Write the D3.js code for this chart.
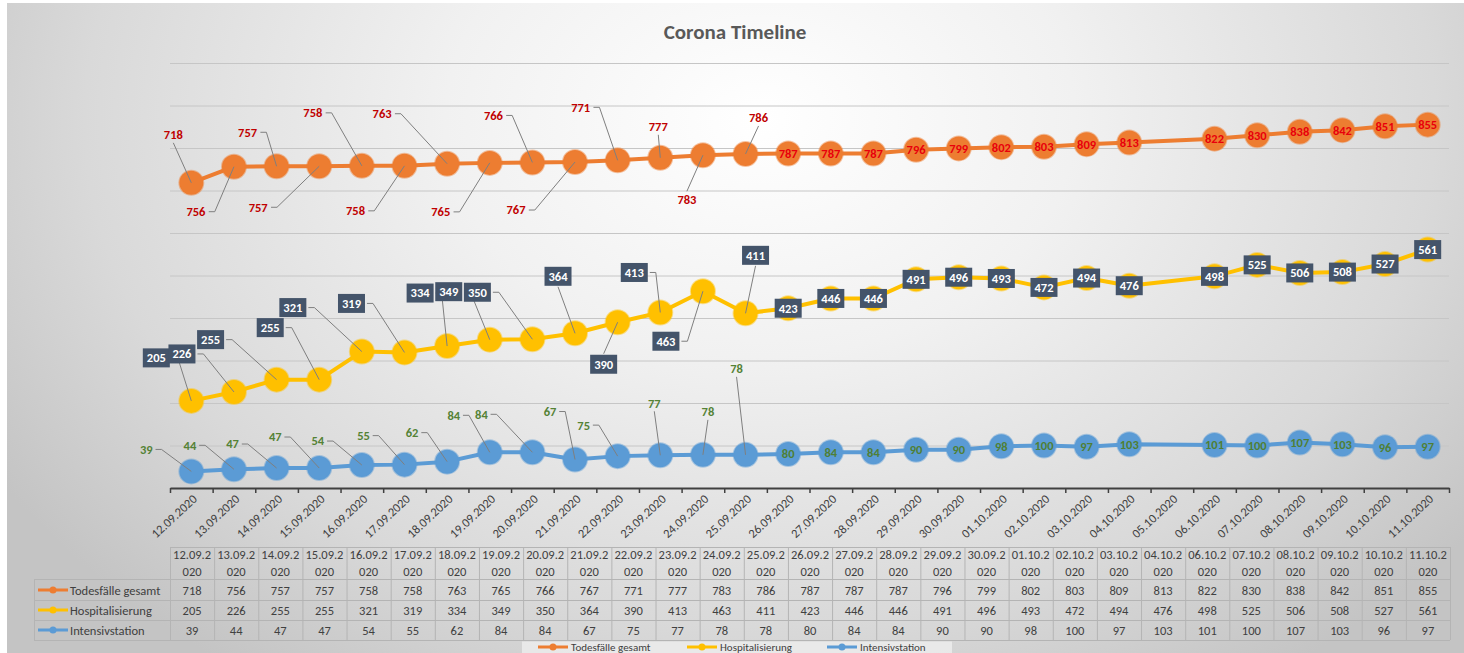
<!DOCTYPE html>
<html><head><meta charset="utf-8">
<script src="https://cdn.jsdelivr.net/npm/d3@7"></script>
<style>
html,body{margin:0;padding:0;background:#fff;}
svg{display:block;font-family:Carlito,Lato,"Open Sans",sans-serif;}
</style></head>
<body><svg id="c" width="1464" height="653"></svg>
<script>
// ---------- DATA ----------
const dates = ["12.09.2020","13.09.2020","14.09.2020","15.09.2020","16.09.2020","17.09.2020","18.09.2020","19.09.2020","20.09.2020","21.09.2020","22.09.2020","23.09.2020","24.09.2020","25.09.2020","26.09.2020","27.09.2020","28.09.2020","29.09.2020","30.09.2020","01.10.2020","02.10.2020","03.10.2020","04.10.2020","06.10.2020","07.10.2020","08.10.2020","09.10.2020","10.10.2020","11.10.2020"];
const axisLabels = ["12.09.2020","13.09.2020","14.09.2020","15.09.2020","16.09.2020","17.09.2020","18.09.2020","19.09.2020","20.09.2020","21.09.2020","22.09.2020","23.09.2020","24.09.2020","25.09.2020","26.09.2020","27.09.2020","28.09.2020","29.09.2020","30.09.2020","01.10.2020","02.10.2020","03.10.2020","04.10.2020","05.10.2020","06.10.2020","07.10.2020","08.10.2020","09.10.2020","10.10.2020","11.10.2020"];
const todesfaelle = [718,756,757,757,758,758,763,765,766,767,771,777,783,786,787,787,787,796,799,802,803,809,813,822,830,838,842,851,855];
const hospitalisierung = [205,226,255,255,321,319,334,349,350,364,390,413,463,411,423,446,446,491,496,493,472,494,476,498,525,506,508,527,561];
const intensivstation = [39,44,47,47,54,55,62,84,84,67,75,77,78,78,80,84,84,90,90,98,100,97,103,101,100,107,103,96,97];
const seriesNames = ["Todesfälle gesamt","Hospitalisierung","Intensivstation"];
const yTicks = [100,200,300,400,500,600,700,800,900,1000];

// ---------- LAYOUT / STYLE (label placement: offset from point, leader mode) ----------
const orangeOff = [[-18,-48,'v'],[-38,45,'h'],[-29,-34,'h'],[-61,41,'h'],[-49,-53,'h'],[-49,45,'h'],[-65,-50,'h'],[-49,49,'h'],[-39,-47,'h'],[-59,48,'h'],[-37,-53,'h'],[-2,-31,'v'],[-16,44,'v'],[13,-36,'v']];
const yellowOff = [[-35,-43,'h'],[-52,-38,'h'],[-66,-40,'h'],[-49,-52,'h'],[-69,-44,'h'],[-53,-49,'h'],[-27,-53,'h'],[-41,-48,'h'],[-55,-47,'h'],[-17,-57,'v'],[-14,42,'v'],[-26,-40,'h'],[-37,50,'h'],[10,-58,'v']];
const blueOff = [[-45,-22,'h'],[-44,-24,'h'],[-44,-24,'h'],[-44,-31,'h'],[-44,-24,'h'],[-41,-29,'h'],[-35,-29,'h'],[-36,-37,'h'],[-51,-38,'h'],[-25,-48,'h'],[-34,-31,'h'],[-6,-52,'v'],[5,-43,'v'],[-9,-86,'v']];

const colors = ["#ED7D31","#FFC000","#5B9BD5"];

const svg = d3.select("#c");
const W = 1464, H = 653;
const parse = d3.utcParse("%d.%m.%Y");
const DAY = 864e5;

// background
const defs = svg.append("defs");
const rg = defs.append("radialGradient").attr("id","bg").attr("gradientUnits","userSpaceOnUse")
  .attr("cx",760).attr("cy",120).attr("r",900).attr("fx",760).attr("fy",120)
  .attr("gradientTransform","translate(760,120) scale(1,0.75) translate(-760,-120)");
rg.append("stop").attr("offset","0").attr("stop-color","#ffffff");
rg.append("stop").attr("offset","0.35").attr("stop-color","#f1f1f1");
rg.append("stop").attr("offset","0.75").attr("stop-color","#d9d9d9");
rg.append("stop").attr("offset","1").attr("stop-color","#c4c4c4");
svg.append("rect").attr("x",7).attr("y",3).attr("width",W-7).attr("height",H-3).attr("fill","url(#bg)");

// scales
const x0 = parse(dates[0]).getTime() - DAY/2;
const x1 = parse(dates[dates.length-1]).getTime() + DAY/2;
const x = d3.scaleUtc().domain([new Date(x0), new Date(x1)]).range([170,1449]);
const y = d3.scaleLinear().domain([0,1000]).range([488,63]);

// gridlines
svg.append("g").selectAll("line").data(yTicks).join("line")
  .attr("x1",170).attr("x2",1449).attr("y1",d=>y(d)+0.5).attr("y2",d=>y(d)+0.5)
  .attr("stroke","#c6c6c6").attr("stroke-width",1);

// title
svg.append("text").attr("x",735).attr("y",39).attr("text-anchor","middle")
  .attr("font-size",21).attr("font-weight","bold").attr("fill","#595959").text("Corona Timeline");

// x axis (boundary ticks)
const boundaries = axisLabels.map(s=>new Date(parse(s).getTime()-DAY/2)).concat([new Date(x1)]);
const axG = svg.append("g").attr("transform","translate(0,488)")
  .call(d3.axisBottom(x).tickValues(boundaries).tickFormat("").tickSize(5).tickSizeOuter(0));
axG.select(".domain").attr("stroke","#404040").attr("stroke-width",2);
axG.selectAll(".tick line").attr("stroke","#404040").attr("stroke-width",1.5);

// x tick labels (rotated)
const lblG = svg.append("g").attr("transform","translate(0,488)")
  .call(d3.axisBottom(x).tickValues(axisLabels.map(parse)).tickFormat(d3.utcFormat("%d.%m.%Y")).tickSize(0).tickSizeOuter(0));
lblG.select(".domain").remove();
lblG.selectAll(".tick text").attr("font-family","Carlito,Lato,sans-serif").attr("font-size",12.5).attr("fill","#404040")
  .attr("text-anchor","end").attr("dy",null).attr("y",0)
  .attr("transform","translate(6,12) rotate(-43)");

// series
const allSeries = [todesfaelle, hospitalisierung, intensivstation];
const pts = allSeries.map(s => s.map((v,i)=>({x:x(parse(dates[i])), y:y(v), v})));
const line = d3.line().x(d=>d.x).y(d=>d.y);
pts.forEach((p,k)=>{
  svg.append("path").datum(p).attr("d",line).attr("fill","none").attr("stroke",colors[k]).attr("stroke-width",4).attr("stroke-linejoin","round");
});
pts.forEach((p,k)=>{
  svg.append("g").selectAll("circle").data(p).join("circle")
    .attr("cx",d=>d.x).attr("cy",d=>d.y).attr("r",12).attr("fill",colors[k])
    .attr("stroke",colors[k]).attr("stroke-opacity",0.45).attr("stroke-width",2);
});

// labels + leaders
const leaderG = svg.append("g");
const labelG = svg.append("g");
function leader(p, lx, ly, hw, hh, mode){
  let path;
  if(mode==='h'){
    const side = Math.sign(p.x - lx) || 1;
    const sx = lx + side*(hw+2);
    path = `M${sx},${ly}L${sx+side*6},${ly}L${p.x},${p.y}`;
  } else {
    const sy = ly + Math.sign(p.y-ly)*(hh+1);
    path = `M${lx},${sy}L${p.x},${p.y}`;
  }
  leaderG.append("path").attr("d",path).attr("fill","none").attr("stroke","#7f7f7f").attr("stroke-width",1);
}
function plainLabels(p, offs, offColor, onColor){
  p.forEach((d,i)=>{
    const o = offs[i];
    const txt = String(d.v);
    const hw = txt.length*3.6, hh = 7;
    let lx=d.x, ly=d.y, col=onColor;
    if(o){ lx=d.x+o[0]; ly=d.y+o[1]; col=offColor; leader(d,lx,ly,hw,hh,o[2]); }
    labelG.append("text").attr("x",lx).attr("y",ly).attr("dy","0.35em").attr("text-anchor","middle")
      .attr("font-size",12.5).attr("font-weight","bold").attr("fill",col).text(txt);
  });
}
plainLabels(pts[0], orangeOff, "#c00000", "#e8000b");
plainLabels(pts[2], blueOff, "#548235", "#4f7f35");
pts[1].forEach((d,i)=>{
  const o = yellowOff[i];
  const hw=13.5, hh=9.5;
  let lx=d.x, ly=d.y;
  if(o){ lx=d.x+o[0]; ly=d.y+o[1]; leader(d,lx,ly,hw,hh,o[2]); }
  labelG.append("rect").attr("x",lx-hw).attr("y",ly-hh).attr("width",hw*2).attr("height",hh*2).attr("fill","#44546A");
  labelG.append("text").attr("x",lx).attr("y",ly).attr("dy","0.35em").attr("text-anchor","middle")
    .attr("font-size",12.5).attr("font-weight","bold").attr("fill","#ffffff").text(d.v);
});

// data table
const band = d3.scaleBand().domain(dates).range([170,1450]);
const tG = svg.append("g");
const rowsY = [547,579,600,620,640];
const bc = "#b4b4b4";
tG.append("line").attr("x1",170).attr("x2",1450).attr("y1",rowsY[0]+0.5).attr("y2",rowsY[0]+0.5).attr("stroke",bc);
rowsY.slice(1).forEach(r=>tG.append("line").attr("x1",34).attr("x2",1450).attr("y1",r+0.5).attr("y2",r+0.5).attr("stroke",bc));
tG.append("line").attr("x1",34.5).attr("x2",34.5).attr("y1",rowsY[1]).attr("y2",rowsY[4]).attr("stroke",bc);
dates.forEach(dt=>tG.append("line").attr("x1",band(dt)+0.5).attr("x2",band(dt)+0.5).attr("y1",rowsY[0]).attr("y2",rowsY[4]).attr("stroke",bc));
tG.append("line").attr("x1",1450.5).attr("x2",1450.5).attr("y1",rowsY[0]).attr("y2",rowsY[4]).attr("stroke",bc);
const cellText = (tx,ty,s)=>tG.append("text").attr("x",tx).attr("y",ty).attr("text-anchor","middle")
  .attr("font-size",12.5).attr("fill","#404040").text(s);
dates.forEach((dt,i)=>{
  const cx = band(dt)+band.bandwidth()/2;
  cellText(cx,559,dt.slice(0,7));
  cellText(cx,576,dt.slice(7));
  allSeries.forEach((s,k)=>cellText(cx,[594.5,614.5,634.5][k],s[i]));
});
seriesNames.forEach((n,k)=>{
  const cy = [590,610,630][k];
  tG.append("line").attr("x1",38).attr("x2",68).attr("y1",cy).attr("y2",cy).attr("stroke",colors[k]).attr("stroke-width",3);
  tG.append("circle").attr("cx",53).attr("cy",cy).attr("r",3.5).attr("fill",colors[k]);
  tG.append("text").attr("x",70).attr("y",cy+4.5).attr("font-size",12.5).attr("fill","#404040").text(n);
});

// legend (bottom edge)
const lg = svg.append("g");
lg.append("rect").attr("x",522).attr("y",641.5).attr("width",430).attr("height",12).attr("fill","#eeeeee").attr("opacity",0.8);
const legX = [538,687,827];
seriesNames.forEach((n,k)=>{
  lg.append("line").attr("x1",legX[k]).attr("x2",legX[k]+30).attr("y1",647).attr("y2",647).attr("stroke",colors[k]).attr("stroke-width",3);
  lg.append("circle").attr("cx",legX[k]+15).attr("cy",647).attr("r",3.5).attr("fill",colors[k]);
  lg.append("text").attr("x",legX[k]+33).attr("y",650.5).attr("font-size",11).attr("fill","#404040").text(n);
});
</script></body></html>
